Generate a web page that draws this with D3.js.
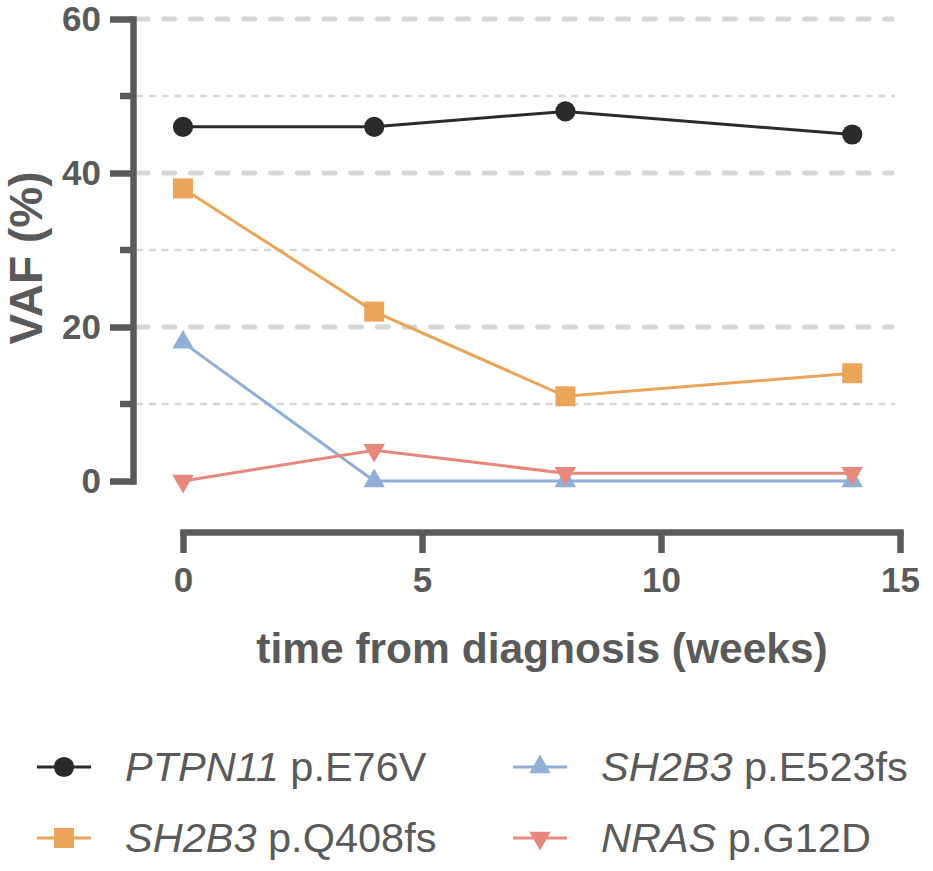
<!DOCTYPE html>
<html>
<head>
<meta charset="utf-8">
<script src="https://cdn.jsdelivr.net/npm/d3@7"></script>
<style>
  body { margin: 0; background: #fff; }
  text { font-family: "Liberation Sans", Arial, sans-serif; }
</style>
</head>
<body>
<div id="graph"></div>
<script>
var w = 933, h = 871

// data
var weeks = [0, 4, 8, 14]
var ptpn11 = [46, 46, 48, 45]
var q408 = [38, 22, 11, 14]
var e523 = [18, 0, 0, 0]
var nras = [0, 4, 1, 1]

var majorTicks = [0, 20, 40, 60]
var minorTicks = [10, 30, 50]
var xTicks = [0, 5, 10, 15]

var series = [
  {gene: 'PTPN11', rest: ' p.E76V', values: ptpn11, color: '#2b2b2b', symbol: d3.symbolCircle, size: 320, rot: 0},
  {gene: 'SH2B3', rest: ' p.Q408fs', values: q408, color: '#eba55a', symbol: d3.symbolSquare, size: 400, rot: 0},
  {gene: 'SH2B3', rest: ' p.E523fs', values: e523, color: '#90aed6', symbol: d3.symbolTriangle, size: 200, rot: 0},
  {gene: 'NRAS', rest: ' p.G12D', values: nras, color: '#e8877c', symbol: d3.symbolTriangle, size: 200, rot: 180}
]

var axisColor = '#5a5a5a'

var svg = d3.select('#graph').append('svg')
    .attr('width', w).attr('height', h)

var x = d3.scaleLinear().domain([0, 15]).range([183, 900])
var y = d3.scaleLinear().domain([0, 60]).range([481, 19])

// grid
svg.append('g').selectAll('line').data(majorTicks.slice(1)).enter().append('line')
    .attr('x1', 137).attr('x2', 892)
    .attr('y1', y).attr('y2', y)
    .style('stroke', '#d6d6d6').style('stroke-width', 5)
    .style('stroke-dasharray', '11 15.7').style('stroke-linecap', 'round')

svg.append('g').selectAll('line').data(minorTicks).enter().append('line')
    .attr('x1', 136).attr('x2', 895)
    .attr('y1', y).attr('y2', y)
    .style('stroke', '#d6d6d6').style('stroke-width', 2.6)
    .style('stroke-dasharray', '7 5.8')

// y axis
var yAxis = svg.append('g').attr('transform', 'translate(133,0)')
    .call(d3.axisLeft(y).tickValues(majorTicks).tickSize(23).tickSizeOuter(0).tickPadding(9))
yAxis.append('g').selectAll('line').data(minorTicks).enter().append('line')
    .attr('x1', -13).attr('x2', 0).attr('y1', y).attr('y2', y)

// x axis
var xAxis = svg.append('g').attr('transform', 'translate(0,532)')
    .call(d3.axisBottom(x).tickValues(xTicks).tickSize(21).tickSizeOuter(0).tickPadding(14))

svg.selectAll('.domain, .tick line, g > g > line')
    .style('stroke', axisColor).style('stroke-width', 6.5)
svg.selectAll('.domain').style('stroke-linecap', 'square')
svg.selectAll('.tick text')
    .style('font-size', '35px').style('font-weight', 'bold').style('fill', axisColor)

// titles
svg.append('text')
    .attr('x', 542).attr('y', 663)
    .attr('text-anchor', 'middle')
    .style('font-size', '42.5px').style('font-weight', 'bold').style('fill', axisColor)
    .text('time from diagnosis (weeks)')

svg.append('text')
    .attr('transform', 'translate(42,258) rotate(-90)')
    .attr('text-anchor', 'middle')
    .style('font-size', '46px').style('font-weight', 'bold').style('fill', axisColor)
    .text('VAF (%)')

// lines and markers
var line = d3.line()
    .x(function(d, i){ return x(weeks[i]) })
    .y(function(d){ return y(d) })

series.forEach(function(s){
  svg.append('path')
      .attr('d', line(s.values))
      .style('fill', 'none').style('stroke', s.color).style('stroke-width', 3)
})

series.forEach(function(s){
  svg.append('g').selectAll('path').data(s.values).enter().append('path')
      .attr('d', d3.symbol().type(s.symbol).size(s.size))
      .attr('transform', function(d, i){
        return 'translate(' + x(weeks[i]) + ',' + y(d) + ') rotate(' + s.rot + ')'
      })
      .style('fill', s.color)
})

// legend
var legPos = [[37, 767], [37, 838], [513, 767], [513, 838]]

series.forEach(function(s, j){
  var p = legPos[j]
  var g = svg.append('g').attr('transform', 'translate(' + p[0] + ',' + p[1] + ')')
  g.append('line').attr('x1', 0).attr('x2', 54)
      .style('stroke', s.color).style('stroke-width', 3)
  g.append('path')
      .attr('d', d3.symbol().type(s.symbol).size(s.size))
      .attr('transform', 'translate(27,0) rotate(' + s.rot + ')')
      .style('fill', s.color)
  var t = g.append('text').attr('x', 88).attr('y', 14)
      .style('font-size', '41.5px').style('fill', axisColor)
  t.append('tspan').style('font-style', 'italic').text(s.gene)
  t.append('tspan').text(s.rest)
})
</script>
</body>
</html>
